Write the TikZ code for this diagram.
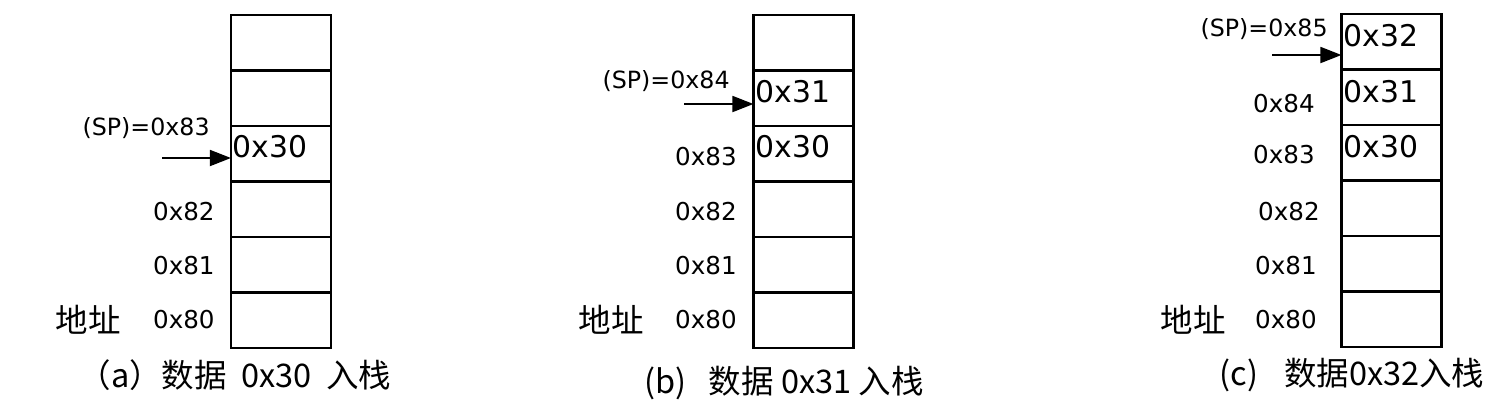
\documentclass[tikz,border=0pt]{standalone}
\usepackage{fontspec}
\setmainfont{DejaVu Sans}
\newfontfamily\cjk{Noto Sans CJK SC}
\usepackage{tikz}
\usetikzlibrary{arrows.meta,calc}
\def\H{55.5}

\begin{document}
\begin{tikzpicture}[x=0.02cm,y=-0.02cm,
    cell/.style={draw,line width=1.4pt,minimum width=2cm,minimum height=1.11cm,inner sep=0pt,outer sep=0pt},
    val/.style={anchor=west,inner sep=0pt,font=\fontsize{17}{18}\selectfont},
    addr/.style={anchor=east,inner sep=0pt,font=\fontsize{14}{15}\selectfont},
    sp/.style={anchor=east,inner sep=0pt,font=\fontsize{13.5}{15}\selectfont},
    subcap/.style={inner sep=0pt,font=\cjk\fontsize{18.5}{19}\selectfont},
    dz/.style={inner sep=0pt,font=\cjk\fontsize{18.5}{19}\selectfont},
    push/.style={line width=1.4pt,-{Triangle[length=12pt,width=9pt]}}]
  \useasboundingbox (0,0) rectangle (1500,410);
  % the three stacks
  \foreach \s/\x/\t in {a/281/15,b/803.5/15,c/1391.5/14}
    \foreach \k in {1,...,6}
      \node[cell] (\s\k) at (\x,{\t+\H*(\k-0.5)}) {};
  % (a)
  \draw
  (210,128) node[sp](spa) {(SP)=0x83}
  (232,147) node[val](a30) {0x30}
  (215,212) node[addr](a82) {0x82}
  (215,266) node[addr](a81) {0x81}
  (215,320) node[addr](a80) {0x80}
  (88,320) node[dz](dza) {地址}
  (235,375) node[subcap](capa) {（a）数据\hspace{0.45em}0x30\hspace{0.45em}入栈};
  \coordinate (pa) at (162,158);
  \draw[push] (pa) -- (pa -| a3.west);
  % (b)
  \draw
  (730,81) node[sp](spb) {(SP)=0x84}
  (755,92) node[val](b31) {0x31}
  (755,147) node[val](b30) {0x30}
  (737,157) node[addr](b83) {0x83}
  (737,212) node[addr](b82) {0x82}
  (737,266) node[addr](b81) {0x81}
  (737,320) node[addr](b80) {0x80}
  (611,320) node[dz](dzb) {地址}
  (784,383) node[subcap](capb) {(b)\hspace{0.7em}数据 0x31 入栈};
  \coordinate (pb) at (684,104);
  \draw[push] (pb) -- (pb -| b2.west);
  % (c)
  \draw
  (1328,29) node[sp](spc) {(SP)=0x85}
  (1343,36) node[val](c32) {0x32}
  (1343,92) node[val](c31) {0x31}
  (1343,147) node[val](c30) {0x30}
  (1315,104) node[addr](c84) {0x84}
  (1315,155) node[addr](c83) {0x83}
  (1320,212) node[addr](c82) {0x82}
  (1317,266) node[addr](c81) {0x81}
  (1317,320) node[addr](c80) {0x80}
  (1193,320) node[dz](dzc) {地址}
  (1352,375) node[subcap](capc) {(c)\hspace{0.8em}数据0x32入栈};
  \coordinate (pc) at (1272,55);
  \draw[push] (pc) -- (pc -| c1.west);
\end{tikzpicture}
\end{document}
